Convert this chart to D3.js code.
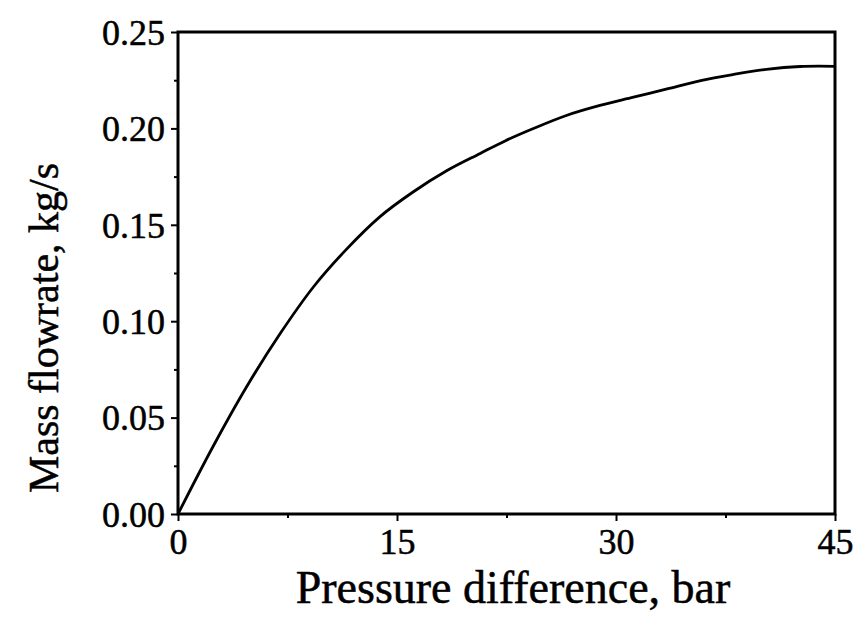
<!DOCTYPE html>
<html>
<head>
<meta charset="utf-8">
<script src="https://cdn.jsdelivr.net/npm/d3@7"></script>
<style>
  body { margin: 0; background: #fff; }
  text { font-family: "Liberation Serif", "Times New Roman", serif; fill: #000; stroke: #000; stroke-width: 0.5px; }
</style>
</head>
<body>
<svg id="chart" width="854" height="617"></svg>
<script>
// values
let pressure = [0, 2.4, 4.7, 7.0, 9.3, 11.5, 13.8, 16.1, 18.4, 20.7, 22.4, 24.3, 26.6, 28.9, 31.2, 33.5, 35.8, 38.0, 40.3, 42.6, 45]
let flow = [0, 0.035, 0.066, 0.0936, 0.118, 0.137, 0.154, 0.167, 0.178, 0.187, 0.1935, 0.1998, 0.2067, 0.2119, 0.2162, 0.2205, 0.2248, 0.2279, 0.2306, 0.2321, 0.2322]

let xTicks = [0, 15, 30, 45]
let xMinor = [7.5, 22.5, 37.5]
let yTicks = [0, 0.05, 0.10, 0.15, 0.20, 0.25]
let yMinor = [0.025, 0.075, 0.125, 0.175, 0.225]

let svg = d3.select("#chart")
let plotLeft = 178, plotRight = 835, plotTop = 32, plotBottom = 514

let x = d3.scaleLinear().domain([0, 45]).range([plotLeft, plotRight])
let y = d3.scaleLinear().domain([0, 0.25]).range([plotBottom, plotTop])

// minor ticks
svg.append("g")
   .attr("transform", `translate(0,${plotBottom})`)
   .call(d3.axisBottom(x).tickValues(xMinor).tickSize(4).tickFormat(""))
svg.append("g")
   .attr("transform", `translate(${plotLeft},0)`)
   .call(d3.axisLeft(y).tickValues(yMinor).tickSize(4).tickFormat(""))

// major ticks
let xAxis = svg.append("g")
   .attr("transform", `translate(0,${plotBottom})`)
   .call(d3.axisBottom(x).tickValues(xTicks).tickSize(7).tickPadding(8).tickFormat(d3.format("d")))
let yAxis = svg.append("g")
   .attr("transform", `translate(${plotLeft},0)`)
   .call(d3.axisLeft(y).tickValues(yTicks).tickSize(7).tickPadding(6).tickFormat(d3.format(".2f")))

svg.selectAll(".domain").remove()
svg.selectAll(".tick line").attr("stroke", "#000").attr("stroke-width", 2)
xAxis.selectAll("text").attr("font-size", 36).attr("dy", "0.7em")
yAxis.selectAll("text").attr("font-size", 36).attr("dy", "0.34em")

// frame
svg.append("rect")
   .attr("x", plotLeft).attr("y", plotTop)
   .attr("width", plotRight - plotLeft).attr("height", plotBottom - plotTop)
   .attr("fill", "none")
   .attr("stroke", "#000")
   .attr("stroke-width", 3)

let line = d3.line()
   .x((d, i) => x(pressure[i]))
   .y(d => y(d))
   .curve(d3.curveCatmullRom.alpha(0.5))

svg.append("path")
   .datum(flow)
   .attr("d", line)
   .attr("fill", "none")
   .attr("stroke", "#000")
   .attr("stroke-width", 2.8)

svg.append("text")
   .attr("x", 513).attr("y", 603)
   .attr("text-anchor", "middle")
   .attr("font-size", 46)
   .text("Pressure difference, bar")

svg.append("text")
   .attr("transform", "translate(58,328) rotate(-90)")
   .attr("text-anchor", "middle")
   .attr("font-size", 42)
   .text("Mass flowrate, kg/s")
</script>
</body>
</html>
